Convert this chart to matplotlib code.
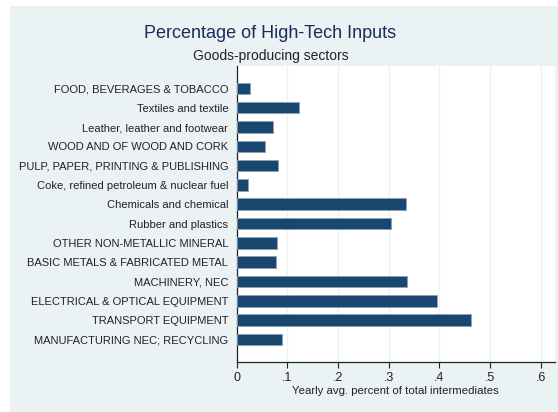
import matplotlib
matplotlib.use('Agg')
from matplotlib import pyplot as plt
from matplotlib.patches import Rectangle

sectors = ['FOOD, BEVERAGES & TOBACCO', 'Textiles and textile', 'Leather, leather and footwear',
           'WOOD AND OF WOOD AND CORK', 'PULP, PAPER, PRINTING & PUBLISHING',
           'Coke, refined petroleum & nuclear fuel', 'Chemicals and chemical', 'Rubber and plastics',
           'OTHER NON-METALLIC MINERAL', 'BASIC METALS & FABRICATED METAL', 'MACHINERY, NEC',
           'ELECTRICAL & OPTICAL EQUIPMENT', 'TRANSPORT EQUIPMENT', 'MANUFACTURING NEC; RECYCLING']
values = [0.027, 0.124, 0.071, 0.056, 0.082, 0.023, 0.334, 0.304,
          0.079, 0.077, 0.336, 0.396, 0.463, 0.089]
xticks = [0, 0.1, 0.2, 0.3, 0.4, 0.5, 0.6]
xticklabels = ['0', '.1', '.2', '.3', '.4', '.5', '.6']

plt.rcParams['font.family'] = ['Liberation Sans', 'DejaVu Sans']

bg = '#EAF2F3'
navy = '#1A476F'

fig = plt.figure(figsize=(5.58, 4.12), dpi=100)
fig.patch.set_facecolor('white')
fig.patches.append(Rectangle((10/558, 0), 1 - 10/558, 1 - 6/412, transform=fig.transFigure,
                             facecolor=bg, edgecolor='none', zorder=-10))

ax = fig.add_axes([236.5/558, 1 - 362/412, (555 - 236.5)/558, (362 - 66)/412])
ax.set_facecolor('white')

pos = list(range(len(sectors)))
ax.barh(pos, values, height=0.6, color=navy, edgecolor='#8AA3BA', linewidth=0.6, zorder=3)

ax.set_ylim(len(sectors) - 1 + 1.17, -1.16)
ax.set_xlim(0, 0.628)
ax.set_yticks(pos)
ax.set_yticklabels(sectors, fontsize=8, color='#222222')
ax.tick_params(axis='y', length=0, pad=6)
ax.set_xticks(xticks)
ax.set_xticklabels(xticklabels, fontsize=9, color='#222222')
ax.tick_params(axis='x', length=4, width=0.8, pad=3, color='#222222')
ax.xaxis.grid(True, color=bg, linewidth=1.0, zorder=0)
ax.set_axisbelow(True)

for s in ['top', 'right']:
    ax.spines[s].set_visible(False)
ax.spines['left'].set_color('#222222')
ax.spines['bottom'].set_color('#222222')
ax.spines['left'].set_linewidth(0.9)
ax.spines['bottom'].set_linewidth(0.9)

ax.set_xlabel('Yearly avg. percent of total intermediates', fontsize=8.2, color='#222222', labelpad=1.5)

fig.text(0.5 * (143 + 398) / 558, 1 - 33/412, 'Percentage of High-Tech Inputs', fontsize=13,
         color='#1A2D5A', ha='center', va='center')
fig.text(0.5 * (191 + 351) / 558, 1 - 56/412, 'Goods-producing sectors', fontsize=10,
         color='#222222', ha='center', va='center')

fig.savefig('out.png', dpi=100, facecolor=fig.get_facecolor())
